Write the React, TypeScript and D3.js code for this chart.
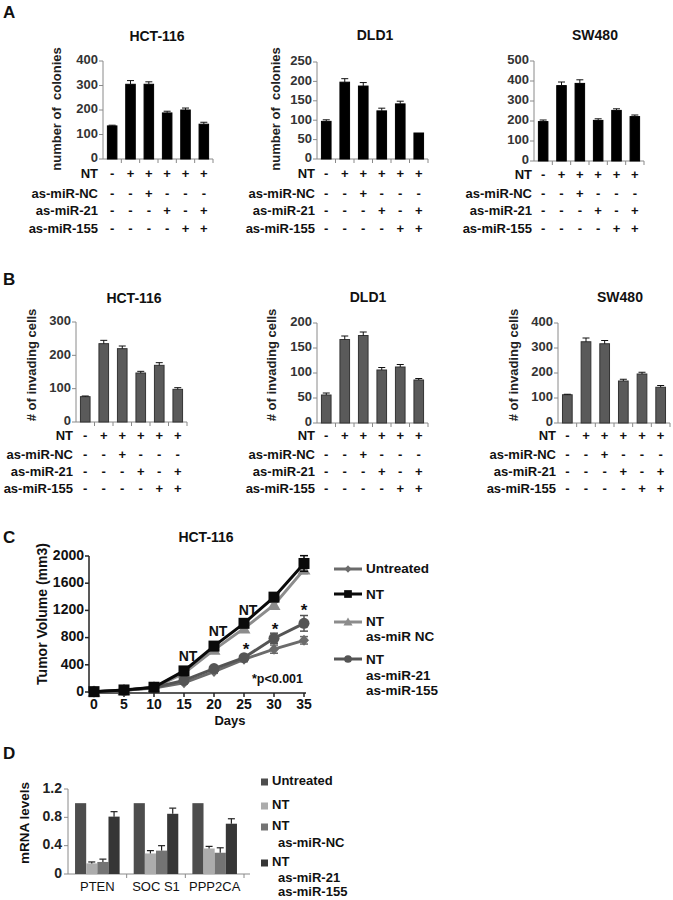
import React from "react";
import * as d3 from "d3";

const FONT = "'Liberation Sans', Arial, Helvetica, sans-serif";

// ---------- shared condition table (panels A & B) ----------
const conditionLabels = ["NT", "as-miR-NC", "as-miR-21", "as-miR-155"];
const conditionSigns = [
  ["-", "+", "+", "+", "+", "+"],
  ["-", "-", "+", "-", "-", "-"],
  ["-", "-", "-", "+", "-", "+"],
  ["-", "-", "-", "-", "+", "+"],
];

// ---------- panel A: colonies ----------
const colonyHCT116 = [135, 305, 305, 188, 200, 142];
const colonyHCT116Err = [3, 15, 10, 7, 8, 8];
const colonyDLD1 = [97, 198, 188, 124, 142, 67];
const colonyDLD1Err = [4, 9, 9, 7, 7, 0];
const colonySW480 = [197, 377, 388, 203, 253, 222];
const colonySW480Err = [8, 18, 18, 8, 8, 8];

// ---------- panel B: invading cells ----------
const invHCT116 = [76, 235, 220, 147, 170, 98];
const invHCT116Err = [2, 10, 8, 5, 8, 5];
const invDLD1 = [56, 167, 175, 106, 112, 86];
const invDLD1Err = [4, 7, 7, 5, 5, 3];
const invSW480 = [113, 325, 317, 168, 196, 143];
const invSW480Err = [2, 15, 13, 7, 7, 7];

// ---------- panel C: tumor volume ----------
const days = [0, 5, 10, 15, 20, 25, 30, 35];
const tvUntreated = [5, 25, 60, 135, 300, 480, 630, 760];
const tvUntreatedErr = [0, 5, 8, 15, 25, 35, 60, 55];
const tvNT = [5, 30, 70, 310, 675, 1010, 1395, 1890];
const tvNTErr = [0, 5, 8, 20, 30, 40, 40, 115];
const tvNTNC = [5, 25, 65, 275, 620, 935, 1280, 1800];
const tvNTNCErr = [0, 5, 8, 20, 30, 40, 40, 60];
const tvNTMiR = [5, 25, 65, 170, 345, 505, 790, 1010];
const tvNTMiRErr = [0, 5, 8, 15, 25, 30, 75, 115];
const tumorTicksY = [0, 400, 800, 1200, 1600, 2000];

// ---------- panel D: mRNA levels ----------
const genes = ["PTEN", "SOC S1", "PPP2CA"];
const mrnaSeries = ["Untreated", "NT", "NT as-miR-NC", "NT as-miR-21 as-miR-155"];
const mrnaUntreated = [1.0, 1.0, 1.0];
const mrnaNT = [0.15, 0.29, 0.36];
const mrnaNTNC = [0.17, 0.33, 0.3];
const mrnaNTMiR = [0.81, 0.85, 0.71];
const mrnaUntreatedErr = [0, 0, 0];
const mrnaNTErr = [0.02, 0.04, 0.03];
const mrnaNTNCErr = [0.04, 0.07, 0.07];
const mrnaNTMiRErr = [0.07, 0.08, 0.07];
const mrnaTicks = [0, 0.4, 0.8, 1.2];

type BarPanelProps = {
  title: string;
  titleX: number;
  titleY: number;
  values: number[];
  errors: number[];
  yMax: number;
  yStep: number;
  x0: number;
  x1: number;
  y0: number;
  y1: number;
  yLabel?: string;
  yLabelX?: number;
  yLabelY?: number;
  rowYs: number[];
  labelRight: number;
  fill: string;
  stroke: string;
};

function BarPanel(p: BarPanelProps) {
  const idx = d3.range(p.values.length);
  const x = d3.scaleBand<number>().domain(idx).range([p.x0, p.x1]);
  const y = d3.scaleLinear().domain([0, p.yMax]).range([p.y0, p.y1]);
  const ticks = d3.range(0, p.yMax + 0.001, p.yStep);
  const bw = x.bandwidth() * 0.52;
  const axisColor = "#8a8a8a";
  return (
    <g>
      <text x={p.titleX} y={p.titleY} textAnchor="middle" dominantBaseline="middle"
        fontSize={14} fontWeight="bold" fill="#111">{p.title}</text>
      {p.yLabel && (
        <text transform={`translate(${p.yLabelX},${p.yLabelY}) rotate(-90)`} textAnchor="middle"
          dominantBaseline="middle" fontSize={13} fontWeight="bold" fill="#222"
          style={{ whiteSpace: "pre" }}>{p.yLabel}</text>
      )}
      {/* y axis */}
      <line x1={p.x0} x2={p.x0} y1={y(0)} y2={y(p.yMax)} stroke={axisColor} strokeWidth={1} />
      {ticks.map((t) => (
        <g key={t}>
          <line x1={p.x0 - 4} x2={p.x0} y1={y(t)} y2={y(t)} stroke={axisColor} />
          <text x={p.x0 - 5} y={y(t)} textAnchor="end" dominantBaseline="middle" fontSize={13}
            fontWeight="bold" fill="#333">{t}</text>
        </g>
      ))}
      {/* x axis */}
      <line x1={p.x0} x2={p.x1} y1={y(0)} y2={y(0)} stroke={axisColor} />
      {idx.map((i) => (
        <line key={i} x1={(x(i) as number) + x.bandwidth()} x2={(x(i) as number) + x.bandwidth()}
          y1={y(0)} y2={y(0) + 4} stroke={axisColor} />
      ))}
      {/* bars */}
      {p.values.map((v, i) => {
        const cx = (x(i) as number) + x.bandwidth() / 2;
        const e = p.errors[i];
        return (
          <g key={i}>
            <rect x={cx - bw / 2} y={y(v)} width={bw} height={y(0) - y(v)} fill={p.fill}
              stroke={p.stroke} strokeWidth={1} />
            {e > 0 && (
              <g stroke="#111" strokeWidth={1}>
                <line x1={cx} x2={cx} y1={y(v)} y2={y(v + e)} />
                <line x1={cx - 3.5} x2={cx + 3.5} y1={y(v + e)} y2={y(v + e)} />
              </g>
            )}
          </g>
        );
      })}
      {/* condition table */}
      {conditionLabels.map((lab, r) => (
        <g key={lab}>
          <text x={p.labelRight} y={p.rowYs[r]} textAnchor="end" dominantBaseline="middle"
            fontSize={13} fontWeight="bold" fill="#111">{lab}</text>
          {conditionSigns[r].map((s, i) => (
            <text key={i} x={(x(i) as number) + x.bandwidth() / 2} y={p.rowYs[r]} textAnchor="middle"
              dominantBaseline="middle" fontSize={13} fontWeight="bold" fill="#111">{s}</text>
          ))}
        </g>
      ))}
    </g>
  );
}

function Marker({ kind, cx, cy, color }: { kind: string; cx: number; cy: number; color: string }) {
  if (kind === "square") return <rect x={cx - 5.5} y={cy - 5.5} width={11} height={11} fill={color} />;
  if (kind === "circle") return <circle cx={cx} cy={cy} r={5.5} fill={color} />;
  if (kind === "triangle")
    return <path d={`M${cx},${cy - 6.5}L${cx + 6.5},${cy + 5}L${cx - 6.5},${cy + 5}Z`} fill={color} />;
  return <path d={`M${cx},${cy - 5.5}L${cx + 5},${cy}L${cx},${cy + 5.5}L${cx - 5},${cy}Z`} fill={color} />;
}

function TumorPanel() {
  const x = d3.scaleLinear().domain([0, 35]).range([94, 304]);
  const y = d3.scaleLinear().domain([0, 2000]).range([692, 556]);
  const series = [
    { name: "Untreated", vals: tvUntreated, err: tvUntreatedErr, color: "#6b6b6b", kind: "diamond" },
    { name: "NTNC", vals: tvNTNC, err: tvNTNCErr, color: "#8c8c8c", kind: "triangle" },
    { name: "NTMiR", vals: tvNTMiR, err: tvNTMiRErr, color: "#555555", kind: "circle" },
    { name: "NT", vals: tvNT, err: tvNTErr, color: "#0a0a0a", kind: "square" },
  ];
  const line = d3.line<number>().x((_, i) => x(days[i])).y((v) => y(v));
  const ax = 89;
  const legend = [
    { lines: ["Untreated"], ys: [569], y: 569, color: "#6b6b6b", kind: "diamond" },
    { lines: ["NT"], ys: [595], y: 594, color: "#0a0a0a", kind: "square" },
    { lines: ["NT", "as-miR NC"], ys: [622, 637], y: 622, color: "#8c8c8c", kind: "triangle" },
    { lines: ["NT", "as-miR-21", "as-miR-155"], ys: [660, 676, 691], y: 659, color: "#555555", kind: "circle" },
  ];
  return (
    <g>
      <text x={206} y={538} textAnchor="middle" dominantBaseline="middle" fontSize={14}
        fontWeight="bold" fill="#111">HCT-116</text>
      <text transform="translate(43,614) rotate(-90)" textAnchor="middle" dominantBaseline="middle"
        fontSize={14} fontWeight="bold" fill="#111">Tumor Volume (mm3)</text>
      <line x1={ax} x2={ax} y1={693} y2={y(2000)} stroke="#222" strokeWidth={1.5} />
      {tumorTicksY.map((t) => (
        <g key={t}>
          <line x1={ax - 4} x2={ax} y1={y(t)} y2={y(t)} stroke="#222" strokeWidth={1.5} />
          <text x={ax - 5} y={y(t)} textAnchor="end" dominantBaseline="middle" fontSize={14}
            fontWeight="bold" fill="#111">{t}</text>
        </g>
      ))}
      <line x1={ax} x2={306} y1={693} y2={693} stroke="#222" strokeWidth={1.5} />
      {days.map((d) => (
        <g key={d}>
          <line x1={x(d)} x2={x(d)} y1={693} y2={697} stroke="#222" strokeWidth={1.5} />
          <text x={x(d)} y={705} textAnchor="middle" dominantBaseline="middle" fontSize={14}
            fontWeight="bold" fill="#111">{d}</text>
        </g>
      ))}
      <text x={230} y={722} textAnchor="middle" dominantBaseline="middle" fontSize={13}
        fontWeight="bold" fill="#111">Days</text>
      {series.map((s) => (
        <g key={s.name}>
          {s.vals.map((v, i) =>
            s.err[i] > 0 ? (
              <g key={i} stroke={s.color} strokeWidth={1.5}>
                <line x1={x(days[i])} x2={x(days[i])} y1={y(v - s.err[i])} y2={y(v + s.err[i])} />
                <line x1={x(days[i]) - 4} x2={x(days[i]) + 4} y1={y(v + s.err[i])} y2={y(v + s.err[i])} />
                <line x1={x(days[i]) - 4} x2={x(days[i]) + 4} y1={y(v - s.err[i])} y2={y(v - s.err[i])} />
              </g>
            ) : null
          )}
          <path d={line(s.vals) || ""} fill="none" stroke={s.color} strokeWidth={3} />
          {s.vals.map((v, i) => (
            <Marker key={i} kind={s.kind} cx={x(days[i])} cy={y(v)} color={s.color} />
          ))}
        </g>
      ))}
      {/* annotations */}
      {[15, 20, 25].map((d, i) => (
        <text key={d} x={x(d) + 4} y={[657, 632, 611][i]} textAnchor="middle" dominantBaseline="middle"
          fontSize={14} fontWeight="bold" fill="#111">NT</text>
      ))}
      {[25, 30, 35].map((d, i) => (
        <text key={d} x={x(d) + [2, 1, 0][i]} y={[651, 631, 612][i]} textAnchor="middle"
          dominantBaseline="middle" fontSize={17} fontWeight="bold" fill="#111">*</text>
      ))}
      <text x={303} y={680} textAnchor="end" dominantBaseline="middle" fontSize={12.5}
        fontWeight="bold" fill="#111">*p&lt;0.001</text>
      {/* legend */}
      {legend.map((l, k) => (
        <g key={k}>
          <line x1={334} x2={362} y1={l.y} y2={l.y} stroke={l.color} strokeWidth={3} />
          <g transform={`translate(348,${l.y}) scale(0.7)`}>
            <Marker kind={l.kind} cx={0} cy={0} color={l.color} />
          </g>
          {l.lines.map((t, j) => (
            <text key={j} x={366} y={l.ys[j]} dominantBaseline="middle" fontSize={13.5}
              fontWeight="bold" fill="#111">{t}</text>
          ))}
        </g>
      ))}
    </g>
  );
}

function MrnaPanel() {
  const x = d3.scaleBand<string>().domain(genes).range([68, 244]);
  const inner = d3.scaleBand<string>().domain(mrnaSeries)
    .range([x.bandwidth() * 0.12, x.bandwidth() * 0.88]);
  const y = d3.scaleLinear().domain([0, 1.2]).range([874, 789]);
  const vals = [mrnaUntreated, mrnaNT, mrnaNTNC, mrnaNTMiR];
  const errs = [mrnaUntreatedErr, mrnaNTErr, mrnaNTNCErr, mrnaNTMiRErr];
  const colors = ["#4d4d4d", "#acacac", "#747474", "#363636"];
  const axisColor = "#8a8a8a";
  const legend = [
    { lines: ["Untreated"], ys: [782] },
    { lines: ["NT"], ys: [806] },
    { lines: ["NT", "as-miR-NC"], ys: [827, 844] },
    { lines: ["NT", "as-miR-21", "as-miR-155"], ys: [863, 879, 893] },
  ];
  return (
    <g>
      <text transform="translate(25,823) rotate(-90)" textAnchor="middle" dominantBaseline="middle"
        fontSize={13.5} fontWeight="bold" fill="#111">mRNA levels</text>
      <line x1={68} x2={68} y1={874} y2={789} stroke={axisColor} />
      {mrnaTicks.map((t) => (
        <g key={t}>
          <line x1={64} x2={68} y1={y(t)} y2={y(t)} stroke={axisColor} />
          <text x={62} y={y(t)} textAnchor="end" dominantBaseline="middle" fontSize={14}
            fontWeight="bold" fill="#222">{t === 0 ? "0" : t.toFixed(1)}</text>
        </g>
      ))}
      <line x1={68} x2={250} y1={874} y2={874} stroke={axisColor} />
      {genes.map((g) => (
        <g key={g}>
          <line x1={(x(g) as number) + x.bandwidth()} x2={(x(g) as number) + x.bandwidth()} y1={874}
            y2={878} stroke={axisColor} />
          <text x={(x(g) as number) + x.bandwidth() / 2} y={888} textAnchor="middle"
            dominantBaseline="middle" fontSize={13} fill="#111" style={{ whiteSpace: "pre" }}>{g}</text>
        </g>
      ))}
      {genes.map((g, gi) =>
        mrnaSeries.map((s, si) => {
          const bx = (x(g) as number) + (inner(s) as number);
          const v = vals[si][gi];
          const e = errs[si][gi];
          const cx = bx + inner.bandwidth() / 2;
          return (
            <g key={g + s}>
              <rect x={bx} y={y(v)} width={inner.bandwidth()} height={874 - y(v)} fill={colors[si]} />
              {e > 0 && (
                <g stroke="#222" strokeWidth={1.2}>
                  <line x1={cx} x2={cx} y1={y(v)} y2={y(v + e)} />
                  <line x1={cx - 3.5} x2={cx + 3.5} y1={y(v + e)} y2={y(v + e)} />
                </g>
              )}
            </g>
          );
        })
      )}
      {/* legend */}
      {legend.map((l, k) => (
        <g key={k}>
          <rect x={261} y={l.ys[0] - 3.5} width={7} height={7} fill={colors[k]} />
          {l.lines.map((t, j) => (
            <text key={j} x={j === 0 ? 272 : 278} y={l.ys[j]} dominantBaseline="middle" fontSize={13}
              fontWeight="bold" fill="#111">{t}</text>
          ))}
        </g>
      ))}
    </g>
  );
}

export default function App() {
  const rowA = [175, 195, 212, 230];
  const rowB = [437, 456, 473, 490];
  return (
    <svg width={673} height={900} viewBox="0 0 673 900"
      style={{ position: "absolute", left: 0, top: 0, background: "#fff", fontFamily: FONT }}>
      <rect width={673} height={900} fill="#fff" />
      <text x={3} y={18} fontSize={17} fontWeight="bold" fill="#111">A</text>
      <text x={3} y={285} fontSize={17} fontWeight="bold" fill="#111">B</text>
      <text x={3} y={543} fontSize={17} fontWeight="bold" fill="#111">C</text>
      <text x={3} y={759} fontSize={17} fontWeight="bold" fill="#111">D</text>

      <BarPanel title="HCT-116" titleX={157} titleY={37} values={colonyHCT116} errors={colonyHCT116Err}
        yMax={400} yStep={100} x0={103} x1={213} y0={159} y1={61} yLabel="number of  colonies"
        yLabelX={58} yLabelY={109} rowYs={rowA} labelRight={98} fill="#000" stroke="#000" />
      <BarPanel title="DLD1" titleX={375} titleY={36} values={colonyDLD1} errors={colonyDLD1Err}
        yMax={250} yStep={50} x0={317} x1={428} y0={159} y1={62} yLabel="number of  colonies"
        yLabelX={277} yLabelY={109} rowYs={rowA} labelRight={315} fill="#000" stroke="#000" />
      <BarPanel title="SW480" titleX={595} titleY={36} values={colonySW480} errors={colonySW480Err}
        yMax={500} yStep={100} x0={534} x1={644} y0={161} y1={61}
        rowYs={[176, 195, 212, 230]} labelRight={532} fill="#000" stroke="#000" />

      <BarPanel title="HCT-116" titleX={134} titleY={299} values={invHCT116} errors={invHCT116Err}
        yMax={300} yStep={100} x0={76} x1={187} y0={422} y1={322} yLabel="# of invading cells"
        yLabelX={33} yLabelY={365} rowYs={rowB} labelRight={73} fill="#5a5a5a" stroke="#333" />
      <BarPanel title="DLD1" titleX={368} titleY={298} values={invDLD1} errors={invDLD1Err}
        yMax={200} yStep={50} x0={317} x1={428} y0={423} y1={323} yLabel="# of invading cells"
        yLabelX={273} yLabelY={365} rowYs={rowB} labelRight={315} fill="#5a5a5a" stroke="#333" />
      <BarPanel title="SW480" titleX={620} titleY={298} values={invSW480} errors={invSW480Err}
        yMax={400} yStep={100} x0={558} x1={670} y0={423} y1={323} yLabel="# of invading cells"
        yLabelX={515} yLabelY={365} rowYs={rowB} labelRight={556} fill="#5a5a5a" stroke="#333" />

      <TumorPanel />
      <MrnaPanel />
    </svg>
  );
}
